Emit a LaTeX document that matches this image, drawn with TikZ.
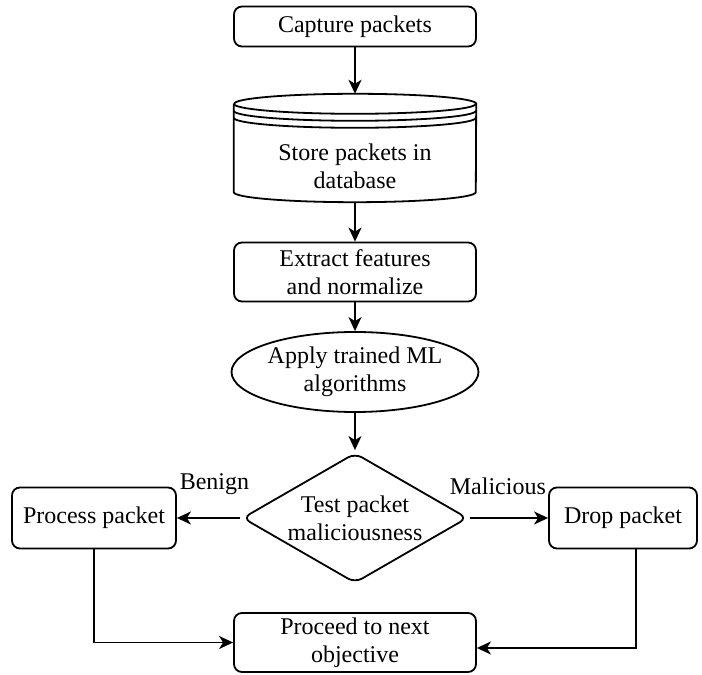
\documentclass[tikz,border=0pt]{standalone}
\usepackage{fontspec}
\setmainfont{Liberation Serif}
\usepackage{tikz}
\usetikzlibrary{shapes.geometric,arrows.meta,positioning,calc}
\tikzstyle{process} = [rectangle, draw, rounded corners=8pt,
                       line width=1.8pt, inner sep=0pt,
                       align=center, font=\fontsize{24}{28}\selectfont]
\tikzstyle{algo} = [ellipse, draw, line width=1.8pt, inner sep=0pt,
                    minimum width=244pt, minimum height=80pt,
                    align=center, font=\fontsize{24}{28}\selectfont]
\tikzstyle{decision} = [diamond, draw, rounded corners=8pt, aspect=1.73,
                        line width=1.8pt, inner sep=0pt,
                        minimum width=225pt, minimum height=130pt,
                        align=center, font=\fontsize{24}{28}\selectfont]
\tikzstyle{dbbox} = [rectangle, inner sep=0pt,
                     minimum width=242pt, minimum height=108pt]
\tikzstyle{plaintext} = [align=center, font=\fontsize{24}{28}\selectfont]
\tikzstyle{line} = [line width=1.8pt]
\tikzstyle{arrow} = [-{Stealth[length=14pt,width=13pt,inset=4pt]}, line width=1.8pt]

\begin{document}
\begin{tikzpicture}[x=1pt, y=1pt]
    \useasboundingbox (0,0) rectangle (702,675);

    % Main chain
    \node[process, minimum width=242pt, minimum height=40pt] (cap) at (355,648.5) {Capture packets};
    \node[dbbox] (db) at (355,527) {};
    \node[process, minimum width=242pt, minimum height=59pt] (ext) at (355,403) {Extract features\\and normalize};
    \node[algo] (alg) at (355,303) {Apply trained ML\\algorithms};
    \node[decision] (test) at (355,157) {Test packet\\maliciousness};

    % Database cylinder
    \draw[line] ([yshift=-10pt]db.north west) -- ([yshift=10pt]db.south west)
        arc[start angle=180, end angle=360, x radius=121pt, y radius=10pt]
        -- ([yshift=-10pt]db.north east)
        arc[start angle=0, end angle=180, x radius=121pt, y radius=10pt];
    \foreach \dy in {10,17,24} {
        \draw[line] ([yshift=-\dy pt]db.north west)
            arc[start angle=180, end angle=360, x radius=121pt, y radius=10pt];
    }
    \node[plaintext] (dbtext) at (355,509) {Store packets in\\database};

    % Outcomes
    \node[process, minimum width=164pt, minimum height=61pt] (proc) at (94,157) {Process packet};
    \node[process, minimum width=148pt, minimum height=61pt] (drop) at (623,157) {Drop packet};
    \node[process, minimum width=242pt, minimum height=59pt] (next) at (355,32.5) {Proceed to next\\objective};

    % Arrows
    \draw[arrow] (cap) -- (db);
    \draw[arrow] (db) -- (ext);
    \draw[arrow] (ext) -- (alg);
    \draw[arrow, shorten >=2pt] (alg) -- (test);
    \draw[arrow, shorten <=2pt] (test.west) -- (proc.east)
        node[plaintext, pos=0.42, above=19pt] (benign) {Benign};
    \draw[arrow, shorten <=2pt] (test.east) -- (drop.west)
        node[plaintext, pos=0.37, above=19pt] (malicious) {Malicious};
    \draw[arrow] (proc.south) |- (next.west);
    \draw[arrow] ([xshift=13pt]drop.south) |- ([yshift=-5.5pt]next.east);
\end{tikzpicture}
\end{document}
